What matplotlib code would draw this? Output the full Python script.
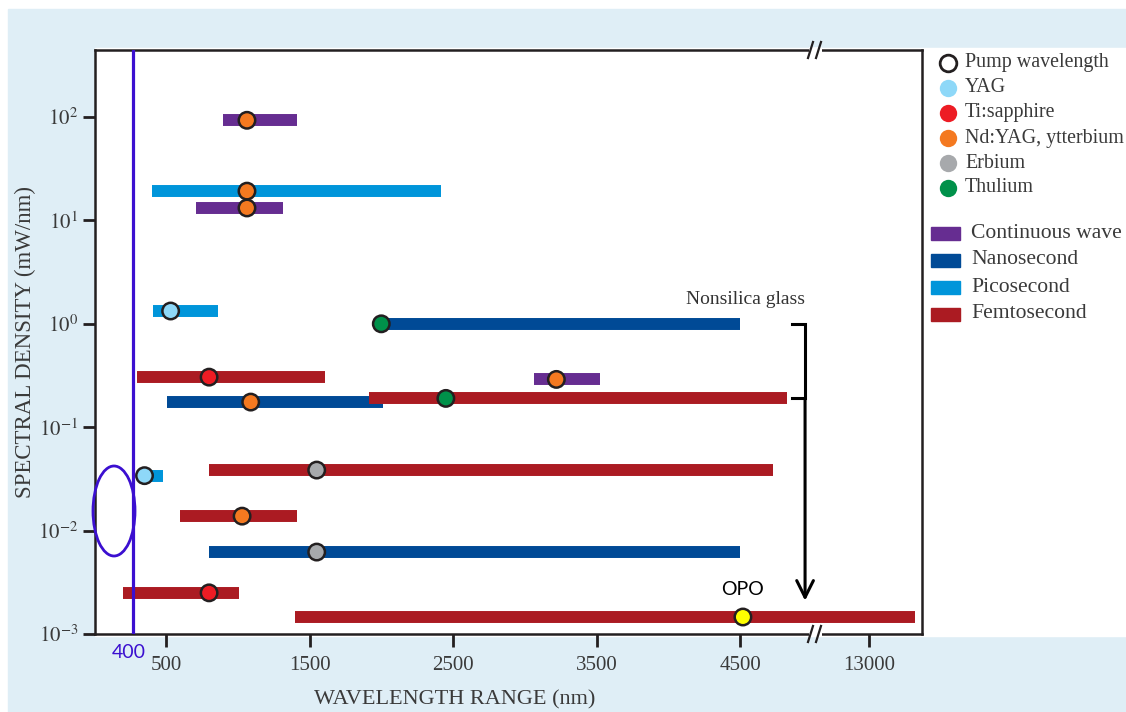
import numpy as np
import matplotlib
matplotlib.use("Agg")
import matplotlib.pyplot as plt
from matplotlib.patches import Rectangle, Ellipse
from matplotlib.ticker import FixedLocator, NullLocator

plt.rcParams['font.family'] = ['Liberation Serif', 'DejaVu Serif']
plt.rcParams['mathtext.fontset'] = 'stix'

# one row per supercontinuum source
bar_type = ["cw", "pico", "cw", "pico", "nano", "femto", "cw", "nano",
            "femto", "pico", "femto", "femto", "nano", "femto", "femto"]
bar_start = [900, 400, 710, 410, 2000, 300, 3065, 510,
             1915, 345, 800, 600, 800, 200, 1400]
bar_end = [1410, 2415, 1315, 860, 4500, 1610, 3525, 2010,
           4830, 480, 4730, 1410, 4500, 1010, 19000]
density = [93, 19.2, 13.2, 1.33, 1.0, 0.305, 0.29, 0.175,
           0.19, 0.034, 0.0385, 0.0138, 0.0062, 0.0025, 0.00146]
pump_nm = [1064, 1064, 1064, 532, 2000, 800, 3220, 1090,
           2450, 350, 1550, 1030, 1550, 800, 4520]
pump_laser = ["ndyag", "ndyag", "ndyag", "yag", "thulium", "tisapph", "ndyag", "ndyag",
              "thulium", "yag", "erbium", "ndyag", "erbium", "tisapph", "opo"]

xticks = [500, 1500, 2500, 3500, 4500, 13000]
yticks = [1e-3, 1e-2, 1e-1, 1e0, 1e1, 1e2]
uv_line_nm = 270   # where the "400" marker line sits on the drawn scale

bar_colors = {"cw": "#662d91", "nano": "#004a96", "pico": "#0095da", "femto": "#ab1b22"}
bar_names = {"cw": "Continuous wave", "nano": "Nanosecond", "pico": "Picosecond", "femto": "Femtosecond"}
dot_colors = {"yag": "#8ed8f8", "tisapph": "#ed1c24", "ndyag": "#f47920",
              "erbium": "#a7a9ac", "thulium": "#00914a", "opo": "#ffff00"}
dot_names = {"yag": "YAG", "tisapph": "Ti:sapphire", "ndyag": "Nd:YAG, ytterbium",
             "erbium": "Erbium", "thulium": "Thulium"}

# broken x axis: linear up to the break, compressed after it
knots_nm = [0, 4975, 13000, 20000]
knots_u = [0, 4975, 5400, 5770]
def fwd(x):
    return np.interp(x, knots_nm, knots_u)
def inv(u):
    return np.interp(u, knots_u, knots_nm)

W, H = 1126, 712
fig = plt.figure(figsize=(W / 100, H / 100), dpi=100, facecolor='white')

bg = fig.add_axes([0, 0, 1, 1], zorder=-5)
bg.set_xlim(0, W); bg.set_ylim(H, 0); bg.axis('off')
bg.add_patch(Rectangle((8, 9), W, H, color='#dfeef6'))
bg.add_patch(Rectangle((95, 48), W, 588, color='white'))

ax = fig.add_axes([95 / W, (H - 634) / H, (922 - 95) / W, (634 - 50) / H])
ax.set_facecolor('white')
ax.set_xscale('function', functions=(fwd, inv))
ax.set_yscale('log')
ax.set_xlim(5, 19960)
ax.set_ylim(1e-3, 445)

ax.hlines(density, bar_start, bar_end, colors=[bar_colors[t] for t in bar_type],
          lw=8.6, capstyle='butt', zorder=2)
ax.scatter(pump_nm, density, s=140, c=[dot_colors[p] for p in pump_laser],
           edgecolors='#231f20', linewidths=1.8, zorder=3)

ax.axvline(uv_line_nm, color='#3b0fd0', lw=2.3, zorder=4)

# nonsilica glass bracket + arrow
ax.plot([4862, 4953, 4953, 4862], [1.0, 1.0, 0.19, 0.19], color='black', lw=2.2,
        solid_joinstyle='miter')
ax.annotate('', xy=(4953, 0.0021), xytext=(4953, 0.19),
            arrowprops=dict(arrowstyle='->', lw=2.2, color='black', mutation_scale=30,
                            shrinkA=0, shrinkB=0))
ax.text(4953, 1.7, 'Nonsilica glass', ha='right', va='center', fontsize=14, color='#333333')
ax.text(4520, 0.0027, 'OPO', ha='center', va='center', fontsize=14,
        family=['Lato', 'DejaVu Sans'], color='black')

ax.xaxis.set_major_locator(FixedLocator(xticks))
ax.xaxis.set_minor_locator(NullLocator())
ax.set_xticklabels([str(t) for t in xticks])
ax.yaxis.set_major_locator(FixedLocator(yticks))
ax.yaxis.set_minor_locator(NullLocator())
ax.set_yticklabels(['$10^{%d}$' % int(np.log10(t)) for t in yticks])
ax.tick_params(axis='both', direction='out', length=9, width=2, colors='#231f20',
               labelcolor='#3a3a3a', labelsize=15)
ax.tick_params(axis='x', pad=7)
ax.tick_params(axis='y', pad=3)
for s in ax.spines.values():
    s.set_linewidth(1.8)
    s.set_color('#231f20')

ov = fig.add_axes([0, 0, 1, 1], zorder=5)
ov.set_xlim(0, W); ov.set_ylim(H, 0); ov.axis('off')
ov.patch.set_alpha(0)

# axis break marks
for yb in (50, 634):
    ov.plot([809, 822], [yb, yb], color='white', lw=4, solid_capstyle='butt')
    ov.plot([808, 813], [yb + 8, yb - 8], color='#231f20', lw=1.6)
    ov.plot([816, 821], [yb + 8, yb - 8], color='#231f20', lw=1.6)

ov.add_patch(Ellipse((114, 511), 42, 90, fill=False, edgecolor='#3b0fd0', lw=2))
ov.text(129, 652, '400', ha='center', va='center', fontsize=14,
        family=['Lato', 'DejaVu Sans'], color='#3b0fd0')

ov.text(455, 700, 'WAVELENGTH RANGE (nm)', ha='center', va='center', fontsize=16, color='#3a3a3a')
ov.text(25, 342, 'SPECTRAL DENSITY (mW/nm)', ha='center', va='center', rotation=90,
        fontsize=16.5, color='#3a3a3a')

# legends
ly = 63
ov.plot(948, ly, 'o', ms=12, mfc='white', mec='#231f20', mew=2)
ov.text(965, ly, 'Pump wavelength', va='center', fontsize=14.4, color='#3a3a3a')
for k in dot_names:
    ly += 25
    ov.plot(948, ly, 'o', ms=12.5, mfc=dot_colors[k], mec='none')
    ov.text(965, ly, dot_names[k], va='center', fontsize=14.4, color='#3a3a3a')

ly = 233
for k in ["cw", "nano", "pico", "femto"]:
    ov.add_patch(Rectangle((931, ly - 6.5), 29, 13, color=bar_colors[k]))
    ov.text(971, ly, bar_names[k], va='center', fontsize=15.6, color='#3a3a3a')
    ly += 27

fig.savefig('out.png', dpi=100, facecolor='white')
